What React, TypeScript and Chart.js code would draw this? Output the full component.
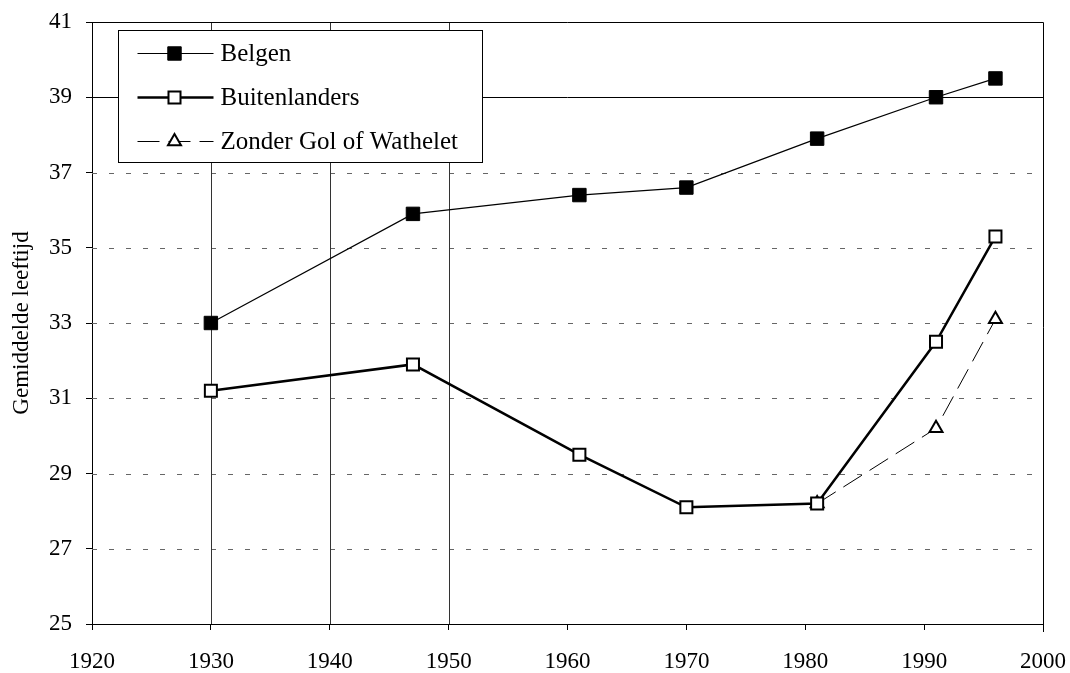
import React, { useEffect, useRef } from 'react';
import { Chart, registerables } from 'chart.js';

Chart.register(...registerables);

// ---- data ----
const years = [1930, 1947, 1961, 1970, 1981, 1991, 1996];
const belgen = [33.0, 35.9, 36.4, 36.6, 37.9, 39.0, 39.5];
const buitenlanders = [31.2, 31.9, 29.5, 28.1, 28.2, 32.5, 35.3];
const zonderYears = [1981, 1991, 1996];
const zonderGol = [28.2, 30.2, 33.1];
const seriesLabels = ['Belgen', 'Buitenlanders', 'Zonder Gol of Wathelet'];
const xTickValues = [1920, 1930, 1940, 1950, 1960, 1970, 1980, 1990, 2000];
const yTickValues = [25, 27, 29, 31, 33, 35, 37, 39, 41];
const verticalGridYears = [1930, 1940, 1950];
const solidGridValue = 39;
const yTitle = 'Gemiddelde leeftijd';

const FONT = "'Liberation Serif', 'Times New Roman', serif";

function drawMarker(ctx: CanvasRenderingContext2D, style: string, r: number, x: number, y: number, bw: number) {
  ctx.beginPath();
  if (style === 'rect') {
    const s = Math.SQRT1_2 * r;
    ctx.rect(x - s, y - s, 2 * s, 2 * s);
  } else {
    const t = (2 * Math.PI) / 3;
    ctx.moveTo(x, y - r);
    ctx.lineTo(x + Math.sin(t) * r, y - Math.cos(t) * r);
    ctx.lineTo(x + Math.sin(2 * t) * r, y - Math.cos(2 * t) * r);
    ctx.closePath();
  }
  ctx.fill();
  if (bw > 0) ctx.stroke();
}

const gridAndLegendPlugin = {
  id: 'gridAndLegend',
  beforeDatasetsDraw(chart: any) {
    const { ctx, chartArea } = chart;
    const x = chart.scales.x;
    const y = chart.scales.y;
    ctx.save();
    yTickValues.forEach((v) => {
      if (v === y.min || v === y.max) return;
      const py = Math.round(y.getPixelForValue(v)) + 0.5;
      ctx.beginPath();
      if (v === solidGridValue) {
        ctx.setLineDash([]);
        ctx.strokeStyle = '#000';
      } else {
        ctx.setLineDash([5, 12]);
        ctx.strokeStyle = '#666';
      }
      ctx.lineWidth = 1;
      ctx.moveTo(chartArea.left, py);
      ctx.lineTo(chartArea.right, py);
      ctx.stroke();
    });
    ctx.setLineDash([]);
    ctx.strokeStyle = '#333';
    verticalGridYears.forEach((v) => {
      const px = Math.round(x.getPixelForValue(v)) + 0.5;
      ctx.beginPath();
      ctx.moveTo(px, chartArea.top);
      ctx.lineTo(px, chartArea.bottom);
      ctx.stroke();
    });
    ctx.restore();
  },
  afterDatasetsDraw(chart: any) {
    const { ctx, chartArea } = chart;
    ctx.save();
    ctx.setLineDash([]);
    ctx.strokeStyle = '#000';
    ctx.lineWidth = 1;
    ctx.beginPath();
    ctx.moveTo(chartArea.left, Math.round(chartArea.top) + 0.5);
    ctx.lineTo(Math.round(chartArea.right) + 0.5, Math.round(chartArea.top) + 0.5);
    ctx.lineTo(Math.round(chartArea.right) + 0.5, chartArea.bottom + 8);
    ctx.stroke();

    const bx = Math.round(chartArea.left + 26) + 0.5;
    const by = Math.round(chartArea.top + 8) + 0.5;
    const bw = 364;
    const bh = 132;
    ctx.fillStyle = '#fff';
    ctx.fillRect(bx, by, bw, bh);
    ctx.strokeStyle = '#000';
    ctx.lineWidth = 1;
    ctx.strokeRect(bx, by, bw, bh);

    const lineStart = bx + 19;
    const lineEnd = bx + 95;
    const markerX = bx + 56;
    const textX = bx + 102;
    chart.data.datasets.forEach((ds: any, i: number) => {
      const cy = by + 23 + i * 44;
      ctx.save();
      ctx.strokeStyle = ds.borderColor;
      ctx.lineWidth = ds.borderWidth;
      ctx.setLineDash(ds.borderDash || []);
      ctx.beginPath();
      ctx.moveTo(lineStart, cy);
      ctx.lineTo(lineEnd, cy);
      ctx.stroke();
      ctx.restore();
      ctx.save();
      ctx.fillStyle = ds.pointBackgroundColor;
      ctx.strokeStyle = ds.pointBorderColor;
      ctx.lineWidth = ds.pointBorderWidth;
      drawMarker(ctx, ds.pointStyle, ds.pointRadius, markerX, cy, ds.pointBorderWidth);
      ctx.restore();
      ctx.fillStyle = '#000';
      ctx.font = `25px ${FONT}`;
      ctx.textBaseline = 'middle';
      ctx.textAlign = 'left';
      ctx.fillText(ds.label, textX, cy + 1);
    });
    ctx.restore();
  },
};

export default function App() {
  const canvasRef = useRef<HTMLCanvasElement | null>(null);

  useEffect(() => {
    if (!canvasRef.current) return;
    const chart = new Chart(canvasRef.current, {
      type: 'line',
      data: {
        datasets: [
          {
            label: seriesLabels[0],
            data: years.map((yr, i) => ({ x: yr, y: belgen[i] })),
            borderColor: '#000',
            borderWidth: 1.2,
            pointStyle: 'rect',
            pointRadius: 9.5,
            pointBackgroundColor: '#000',
            pointBorderColor: '#000',
            pointBorderWidth: 1,
            tension: 0,
          },
          {
            label: seriesLabels[1],
            data: years.map((yr, i) => ({ x: yr, y: buitenlanders[i] })),
            borderColor: '#000',
            borderWidth: 2.5,
            pointStyle: 'rect',
            pointRadius: 8.5,
            pointBackgroundColor: '#fff',
            pointBorderColor: '#000',
            pointBorderWidth: 2,
            tension: 0,
          },
          {
            label: seriesLabels[2],
            data: zonderYears.map((yr, i) => ({ x: yr, y: zonderGol[i] })),
            borderColor: '#000',
            borderWidth: 1,
            borderDash: [22, 9],
            pointStyle: 'triangle',
            pointRadius: 7.5,
            pointBackgroundColor: '#fff',
            pointBorderColor: '#000',
            pointBorderWidth: 2,
            tension: 0,
          },
        ],
      },
      options: {
        responsive: false,
        animation: false,
        events: [],
        layout: { padding: { left: 0, top: 22, right: 27, bottom: 0 } },
        plugins: {
          legend: { display: false },
          tooltip: { enabled: false },
        },
        scales: {
          x: {
            type: 'linear',
            min: 1920,
            max: 2000,
            afterBuildTicks: (scale: any) => {
              scale.ticks = xTickValues.map((v) => ({ value: v }));
            },
            afterFit: (scale: any) => {
              scale.height = 49;
              scale.paddingLeft = 0;
              scale.paddingRight = 0;
            },
            ticks: {
              color: '#000',
              font: { family: FONT, size: 23 },
              padding: 18,
              maxRotation: 0,
              autoSkip: false,
              callback: (v: any) => String(v),
            },
            grid: {
              drawOnChartArea: false,
              drawTicks: true,
              tickLength: 6,
              tickColor: '#000',
              color: '#000',
            },
            border: { display: true, color: '#000', width: 1 },
          },
          y: {
            type: 'linear',
            min: 25,
            max: 41,
            afterBuildTicks: (scale: any) => {
              scale.ticks = yTickValues.map((v) => ({ value: v }));
            },
            afterFit: (scale: any) => {
              scale.width = 92;
              scale.paddingTop = 0;
              scale.paddingBottom = 0;
            },
            ticks: {
              color: '#000',
              font: { family: FONT, size: 23 },
              padding: 14,
              autoSkip: false,
              callback: (v: any) => String(v),
            },
            grid: {
              drawOnChartArea: false,
              drawTicks: true,
              tickLength: 6,
              tickColor: '#000',
              color: '#000',
            },
            border: { display: true, color: '#000', width: 1 },
            title: {
              display: true,
              text: yTitle,
              color: '#000',
              font: { family: FONT, size: 23, weight: 'normal' },
              padding: { top: 8, bottom: 0 },
            },
          },
        },
      },
      plugins: [gridAndLegendPlugin],
    } as any);
    return () => chart.destroy();
  }, []);

  return (
    <div style={{ position: 'absolute', left: 0, top: 0, width: 1070, height: 673, background: '#fff' }}>
      <canvas ref={canvasRef} width={1070} height={673} style={{ display: 'block', width: 1070, height: 673 }} />
    </div>
  );
}
